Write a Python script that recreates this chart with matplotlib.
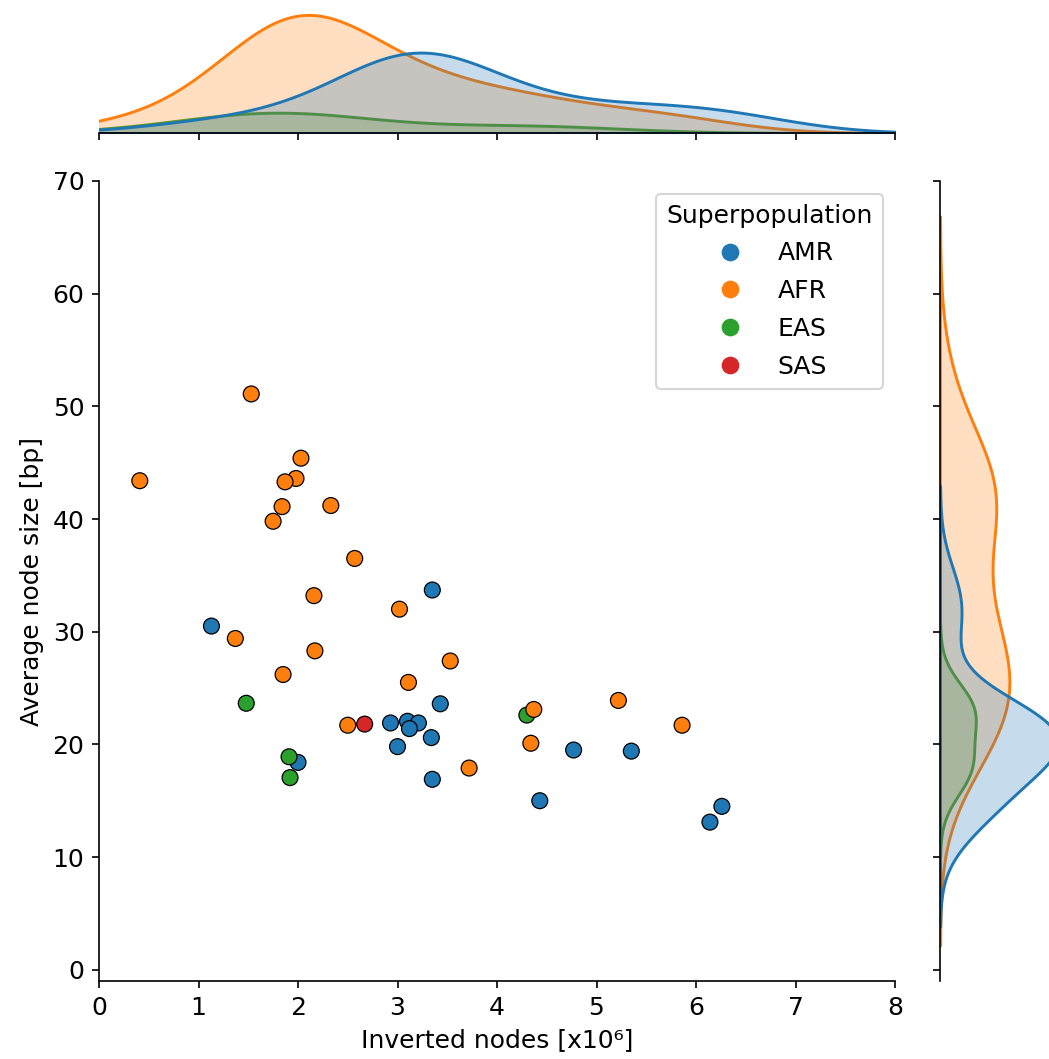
import pandas as pd
import matplotlib.pyplot as plt
import seaborn as sns
from matplotlib.lines import Line2D

plt.rcParams['font.size'] = 12

# Inverted nodes (x10^6) and average node size (bp) per sample, by superpopulation
amr_x = [1.13, 2.00, 3.35, 3.43, 2.93, 3.10, 3.21, 3.34, 3.00, 3.35, 4.77, 5.35, 4.43, 6.26, 6.14, 3.12]
amr_y = [30.5, 18.4, 33.7, 23.6, 21.9, 22.05, 21.9, 20.6, 19.8, 16.9, 19.5, 19.4, 15.0, 14.5, 13.1, 21.4]

eas_x = [1.48, 1.91, 1.92, 4.30]
eas_y = [23.65, 18.9, 17.05, 22.6]

afr_x = [0.41, 1.53, 2.03, 1.98, 1.87, 1.84, 2.33, 1.75, 2.57, 2.16, 1.37,
         2.17, 1.85, 2.50, 3.02, 3.53, 3.11, 3.72, 4.37, 4.34, 5.22, 5.86]
afr_y = [43.4, 51.1, 45.4, 43.6, 43.3, 41.1, 41.2, 39.8, 36.5, 33.2, 29.4,
         28.3, 26.2, 21.7, 32.0, 27.4, 25.5, 17.9, 23.1, 20.1, 23.9, 21.7]

sas_x = [2.67]
sas_y = [21.8]

groups = ['AMR', 'AFR', 'EAS', 'SAS']
colors = ['#1f77b4', '#ff7f0e', '#2ca02c', '#d62728']

df = pd.concat([
    pd.DataFrame({'x': amr_x, 'y': amr_y, 'Superpopulation': 'AMR'}),
    pd.DataFrame({'x': eas_x, 'y': eas_y, 'Superpopulation': 'EAS'}),
    pd.DataFrame({'x': afr_x, 'y': afr_y, 'Superpopulation': 'AFR'}),
    pd.DataFrame({'x': sas_x, 'y': sas_y, 'Superpopulation': 'SAS'}),
], ignore_index=True)

g = sns.jointplot(data=df, x='x', y='y', hue='Superpopulation',
                  hue_order=groups, palette=colors, height=7,
                  joint_kws=dict(s=58, edgecolor='black', linewidth=0.6, legend=False),
                  marginal_kws=dict(linewidth=1.4))

fig = g.figure
fig.set_size_inches(1049 / 150, 1059 / 150)
W, H = 1049, 1059
g.ax_joint.set_position([99 / W, (H - 981) / H, 796 / W, 800 / H])
g.ax_marg_x.set_position([99 / W, (H - 133) / H, 796 / W, 124 / H])
g.ax_marg_y.set_position([940 / W, (H - 981) / H, 124 / W, 800 / H])

ax = g.ax_joint
ax.set_xlim(0, 8)
ax.set_ylim(-1, 70)
ax.set_xticks(range(0, 9))
ax.set_yticks(range(0, 71, 10))
ax.set_xlabel('Inverted nodes [x10⁶]', fontsize=12)
ax.set_ylabel('Average node size [bp]', fontsize=12)
ax.tick_params(labelsize=12)

handles = [Line2D([], [], marker='o', linestyle='', markersize=8.5,
                  markerfacecolor=c, markeredgewidth=0) for c in colors]
ax.legend(handles, groups, title='Superpopulation', loc='upper right',
          fontsize=12, title_fontsize=12, handlelength=2.0, handletextpad=0.9,
          labelspacing=0.55)

fig.savefig('out.png', dpi=150)
